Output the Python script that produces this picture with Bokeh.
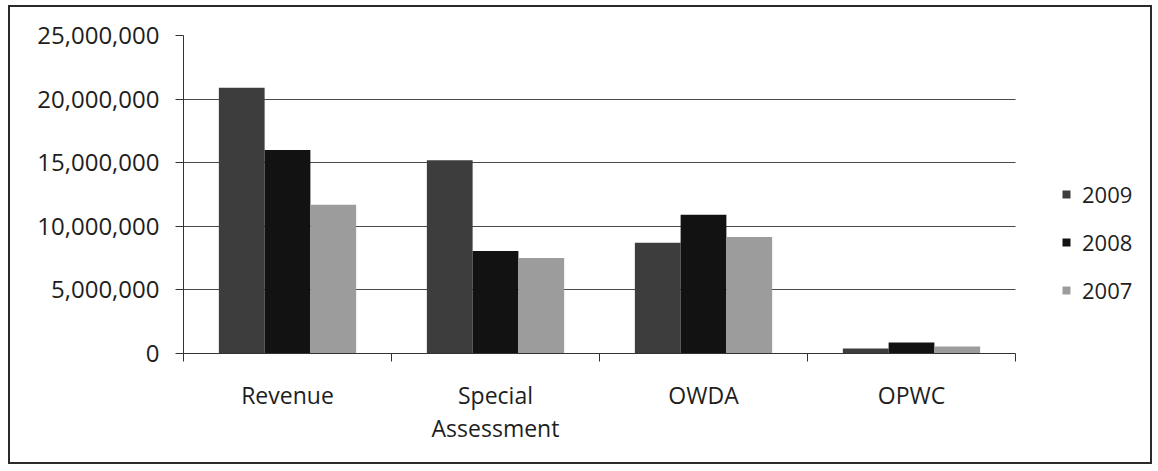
from bokeh.plotting import figure
from bokeh.models import (ColumnDataSource, Range1d, LinearAxis,
                          FixedTicker, NumeralTickFormatter, Legend, LegendItem)
from bokeh.transform import dodge
from bokeh.embed import file_html
from bokeh.resources import INLINE

categories = ["Revenue", "Special\nAssessment", "OWDA", "OPWC"]
years = ["2009", "2008", "2007"]
v2009 = [20900000, 15200000, 8700000, 400000]
v2008 = [16000000, 8050000, 10900000, 860000]
v2007 = [11700000, 7500000, 9150000, 550000]
y_ticks = [0, 5000000, 10000000, 15000000, 20000000, 25000000]

colors = {"2009": "#3d3d3d", "2008": "#121212", "2007": "#9c9c9c"}
FONT = "Open Sans"

# layout (pixels)
W, H = 1144, 459
LEFT, TOP, BOTTOM = 173, 28, 113
CAT_PX = 208                      # width of one category band
frame_w = W - LEFT
n = len(categories)
x_end = frame_w / CAT_PX          # data units spanning the full frame (legend sits in the spare area)

centers = [i + 0.5 for i in range(n)]
bounds = list(range(n + 1))
src = ColumnDataSource(dict(pos=centers, v2009=v2009, v2008=v2008, v2007=v2007))

p = figure(x_range=Range1d(0, x_end), y_range=Range1d(0, 25000000),
           width=W, height=H, output_backend="svg", toolbar_location=None,
           x_axis_location=None, min_border_left=LEFT, min_border_top=TOP,
           min_border_bottom=BOTTOM, min_border_right=0)
p.styles = {"border": "2px solid #2a2a2a", "margin-left": "8px", "margin-top": "5px"}
p.outline_line_color = None
p.background_fill_color = "white"
p.border_fill_color = "white"

cat_axis = LinearAxis(ticker=FixedTicker(ticks=centers, minor_ticks=bounds),
                      bounds=(0, n),
                      major_label_overrides={c: lab for c, lab in zip(centers, categories)},
                      axis_line_color="#333333", major_tick_line_color=None, major_tick_out=0,
                      major_tick_in=0,
                      minor_tick_line_color="#333333", minor_tick_out=8, minor_tick_in=0,
                      major_label_text_font=FONT, major_label_text_font_size="23px",
                      major_label_text_line_height=1.05,
                      major_label_text_color="#1e1e1e", major_label_standoff=17)
p.add_layout(cat_axis, "below")

yax = p.yaxis[0]
yax.ticker = FixedTicker(ticks=y_ticks)
yax.formatter = NumeralTickFormatter(format="0,0")
yax.major_label_text_font = FONT
yax.major_label_text_font_size = "24px"
yax.major_label_text_color = "#1e1e1e"
yax.major_tick_out = 8
yax.major_tick_in = 0
yax.minor_tick_line_color = None
yax.major_label_standoff = 16
yax.axis_line_color = "#333333"
yax.major_tick_line_color = "#333333"

p.xgrid.grid_line_color = None
p.ygrid.ticker = FixedTicker(ticks=y_ticks)
p.ygrid.cross_bounds = (0, n)
p.ygrid.grid_line_color = "#4a4a4a"
p.ygrid.grid_line_width = 1

items = []
for off, yr in zip([-0.22, 0.0, 0.22], years):
    r = p.vbar(x=dodge("pos", off), top="v" + yr, width=0.22, source=src,
               fill_color=colors[yr], line_color=None)
    items.append(LegendItem(label=yr, renderers=[r]))

legend = Legend(items=items, location=(878, 48), orientation="vertical",
                glyph_width=10, glyph_height=10, label_standoff=11, spacing=18,
                label_height=30, padding=0, margin=0, border_line_color=None,
                background_fill_alpha=0, label_text_font=FONT, label_text_font_size="22px",
                label_text_color="#1e1e1e")
p.add_layout(legend, "center")

open("out.html", "w").write(file_html(p, INLINE))
